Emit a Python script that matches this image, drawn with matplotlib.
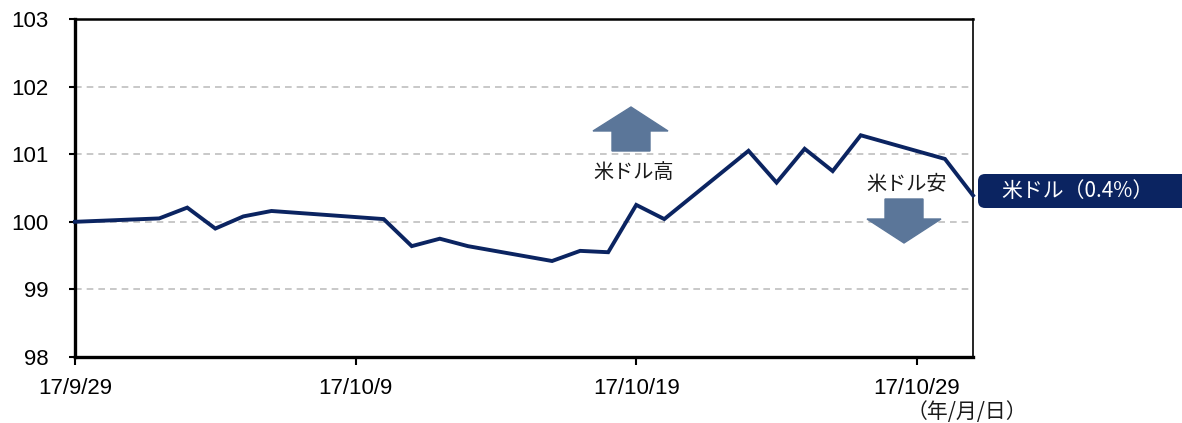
import matplotlib
matplotlib.use("Agg")
import matplotlib.pyplot as plt
from matplotlib.patches import Polygon, FancyBboxPatch
import pandas as pd

dates = ["2017-09-29", "2017-10-02", "2017-10-03", "2017-10-04", "2017-10-05",
         "2017-10-06", "2017-10-10", "2017-10-11", "2017-10-12", "2017-10-13",
         "2017-10-16", "2017-10-17", "2017-10-18", "2017-10-19", "2017-10-20",
         "2017-10-23", "2017-10-24", "2017-10-25", "2017-10-26", "2017-10-27",
         "2017-10-30", "2017-10-31"]
usd = [100.0, 100.05, 100.21, 99.90, 100.08,
       100.16, 100.04, 99.64, 99.75, 99.64,
       99.42, 99.57, 99.55, 100.25, 100.04,
       101.05, 100.58, 101.08, 100.75, 101.28,
       100.93, 100.39]
tick_dates = ["2017-09-29", "2017-10-09", "2017-10-19", "2017-10-29"]
tick_labels = ["17/9/29", "17/10/9", "17/10/19", "17/10/29"]
y_ticks = [98, 99, 100, 101, 102, 103]
series_label = "米ドル（0.4%）"
up_label = "米ドル高"
down_label = "米ドル安"
unit_label = "（年/月/日）"

NAVY = "#0B2461"
ARROW = "#5B7699"
JP = ["Noto Sans CJK JP", "DejaVu Sans"]
NUM = ["Liberation Sans", "DejaVu Sans"]

W, H = 1182, 423
fig = plt.figure(figsize=(W / 100, H / 100), dpi=100)
L, R, T, B = 75, 973, 19, 357
ax = fig.add_axes([L / W, 1 - B / H, (R - L) / W, (B - T) / H])

x = pd.to_datetime(dates)
ax.plot(x, usd, color=NAVY, lw=2.8, solid_joinstyle="miter", zorder=3, clip_on=False)

ax.set_xlim(pd.Timestamp("2017-09-29"), pd.Timestamp("2017-10-31"))
ax.set_ylim(98, 103)
ax.set_yticks(y_ticks)
ax.set_yticklabels([str(v) for v in y_ticks], fontfamily=NUM, fontsize=16)
ax.set_xticks(pd.to_datetime(tick_dates))
ax.set_xticklabels(tick_labels, fontfamily=NUM, fontsize=16)
ax.tick_params(axis="y", direction="out", length=4, width=1.5, pad=15)
ax.tick_params(axis="x", direction="out", length=6, width=1.5, pad=9)

for v in [99, 100, 101, 102]:
    ax.axhline(v, color="#BFBFBF", lw=1.2, ls=(0, (4, 3)), zorder=1)

ax.spines["left"].set_linewidth(2.4)
ax.spines["bottom"].set_linewidth(2.4)
ax.spines["top"].set_linewidth(1.8)
ax.spines["right"].set_linewidth(1.2)
for s in ax.spines.values():
    s.set_color("black")


def axf(px, py):
    return ((px - L) / (R - L), (B - py) / (B - T))


up = [axf(612, 151), axf(612, 131), axf(593, 131), axf(631, 107),
      axf(668, 131), axf(650, 131), axf(650, 151)]
ax.add_patch(Polygon(up, closed=True, transform=ax.transAxes, color=ARROW, zorder=2, clip_on=False))
down = [axf(885, 199), axf(885, 219), axf(867, 219), axf(904, 243),
        axf(941, 219), axf(923, 219), axf(923, 199)]
ax.add_patch(Polygon(down, closed=True, transform=ax.transAxes, color=ARROW, zorder=2, clip_on=False))

tx, ty = axf(634, 172)
ax.text(tx, ty, up_label, transform=ax.transAxes, ha="center", va="center",
        fontfamily=JP, fontsize=14.5, color="#1a1a1a")
tx, ty = axf(907, 184)
ax.text(tx, ty, down_label, transform=ax.transAxes, ha="center", va="center",
        fontfamily=JP, fontsize=14.5, color="#1a1a1a")

box = FancyBboxPatch((978 / W, 1 - 208 / H), (W + 20 - 978) / W, 34 / H,
                     boxstyle="round,pad=0,rounding_size=0.006",
                     transform=fig.transFigure, facecolor=NAVY, edgecolor="none",
                     mutation_aspect=W / H)
fig.patches.append(box)
fig.text(1077 / W, 1 - 191 / H, series_label, ha="center", va="center",
         fontfamily=JP, fontsize=15, color="white")

fig.text(967 / W, 1 - 412 / H, unit_label, ha="center", va="center",
         fontfamily=JP, fontsize=15, color="#1a1a1a")

fig.savefig("out.png", dpi=100)
